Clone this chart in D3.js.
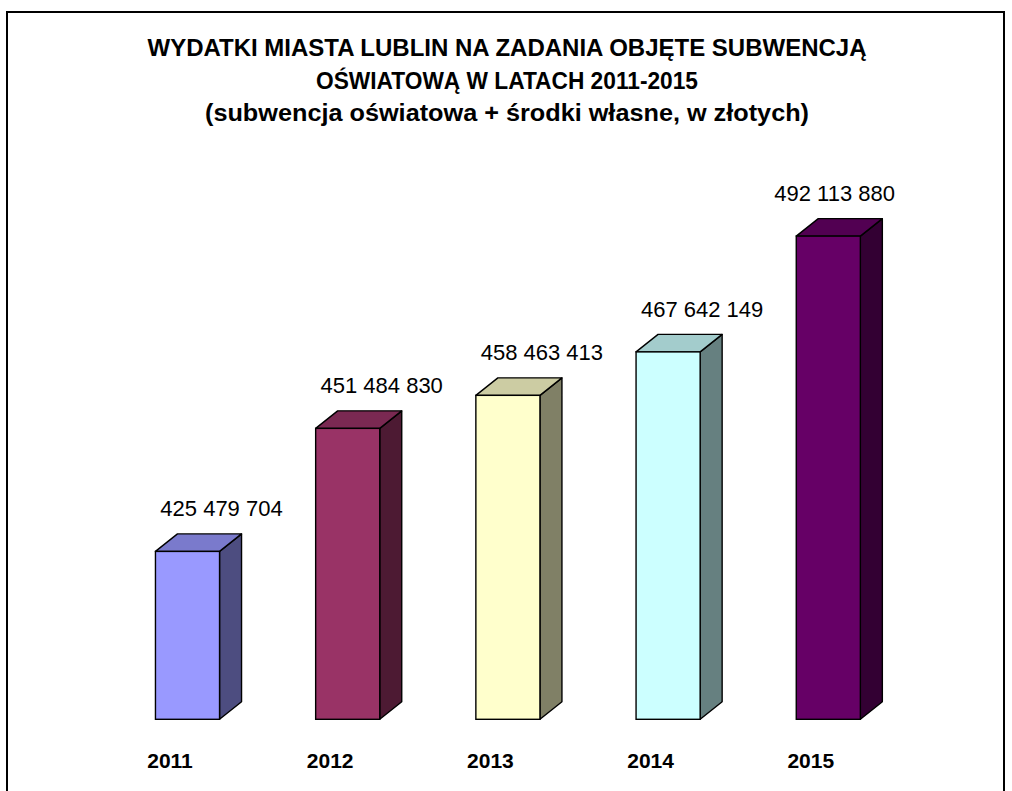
<!DOCTYPE html>
<html>
<head>
<meta charset="utf-8">
<script src="https://cdn.jsdelivr.net/npm/d3@7"></script>
<style>
  html, body { margin: 0; padding: 0; background: #ffffff; }
  svg { display: block; }
  text { font-family: "Liberation Sans", Arial, sans-serif; fill: #000; }
</style>
</head>
<body>
<svg id="chart" width="1012" height="791"></svg>
<script>
// Education spending of the City of Lublin, 2011-2015 (PLN)
const years = ["2011", "2012", "2013", "2014", "2015"];
const spending = [425479704, 451484830, 458463413, 467642149, 492113880];
const barColors = ["#9999FF", "#993366", "#FFFFCC", "#CCFFFF", "#660066"];
const titleLines = [
  "WYDATKI MIASTA LUBLIN NA ZADANIA OBJĘTE SUBWENCJĄ",
  "OŚWIATOWĄ W LATACH 2011-2015",
  "(subwencja oświatowa + środki własne, w złotych)"
];
const valueDomain = [390000000, 500000000];

const svg = d3.select("#chart");

// outer chart frame (open at the bottom edge of the view)
svg.append("rect")
  .attr("x", 7).attr("y", 12)
  .attr("width", 997).attr("height", 800)
  .attr("fill", "#fff")
  .attr("stroke", "#000")
  .attr("stroke-width", 2);

// title, slightly condensed bold lines
const titleY = [56, 89, 121];
const titleLen = [719, 382, 604];
svg.append("g").selectAll("text")
  .data(titleLines)
  .join("text")
  .attr("x", 507)
  .attr("y", (d, i) => titleY[i])
  .attr("text-anchor", "middle")
  .attr("font-weight", "bold")
  .attr("font-size", 23.5)
  .attr("textLength", (d, i) => titleLen[i])
  .attr("lengthAdjust", "spacingAndGlyphs")
  .text(d => d);

// scales
const x = d3.scaleBand().domain(years).range([107.4, 908.4]).paddingInner(0).paddingOuter(0);
const y = d3.scaleLinear().domain(valueDomain).range([719.3, 719.3 - 110 * 4.7318]);

const barW = x.bandwidth() * 0.4;
const depthX = 22, depthY = 17.5;
const plotRight = 895;

const fmt = d3.formatLocale({ thousands: " ", grouping: [3], decimal: ",", currency: ["", " zł"] }).format(",d");

const rows = years.map((yr, i) => ({ year: yr, value: spending[i], color: barColors[i] }));

const shade = (c, k) => {
  const r = d3.rgb(c);
  return d3.rgb(r.r * k, r.g * k, r.b * k).formatHex();
};

svg.append("g").selectAll("g")
  .data(rows)
  .join("g")
  .each(function (d) {
    const g = d3.select(this);
    const x0 = x(d.year) + (x.bandwidth() - barW) / 2;
    const x1 = x0 + barW;
    const yt = y(d.value);
    const yb = y(valueDomain[0]);
    const poly = pts => "M" + pts.map(p => p.join(",")).join("L") + "Z";

    // right side face
    g.append("path")
      .attr("d", poly([[x1, yt], [x1 + depthX, yt - depthY], [x1 + depthX, yb - depthY], [x1, yb]]))
      .attr("fill", shade(d.color, 0.5))
      .attr("stroke", "#000").attr("stroke-width", 1.4).attr("stroke-linejoin", "round");
    // top face
    g.append("path")
      .attr("d", poly([[x0, yt], [x0 + depthX, yt - depthY], [x1 + depthX, yt - depthY], [x1, yt]]))
      .attr("fill", shade(d.color, 0.8))
      .attr("stroke", "#000").attr("stroke-width", 1.4).attr("stroke-linejoin", "round");
    // front face
    g.append("rect")
      .attr("x", x0).attr("y", yt)
      .attr("width", barW).attr("height", yb - yt)
      .attr("fill", d.color)
      .attr("stroke", "#000").attr("stroke-width", 1.4);

    // value label, kept inside the plot area
    const label = g.append("text")
      .attr("y", yt - 35)
      .attr("text-anchor", "middle")
      .attr("font-size", 22)
      .text(fmt(d.value));
    const lw = label.node().getComputedTextLength();
    let cx = (x0 + x1) / 2 + 34;
    if (cx + lw / 2 > plotRight) cx = plotRight - lw / 2;
    label.attr("x", cx);
  });

// category labels
svg.append("g").selectAll("text")
  .data(years)
  .join("text")
  .attr("x", d => x(d) + x.bandwidth() / 2 - 17.5)
  .attr("y", 768)
  .attr("text-anchor", "middle")
  .attr("font-weight", "bold")
  .attr("font-size", 21)
  .text(d => d);
</script>
</body>
</html>
